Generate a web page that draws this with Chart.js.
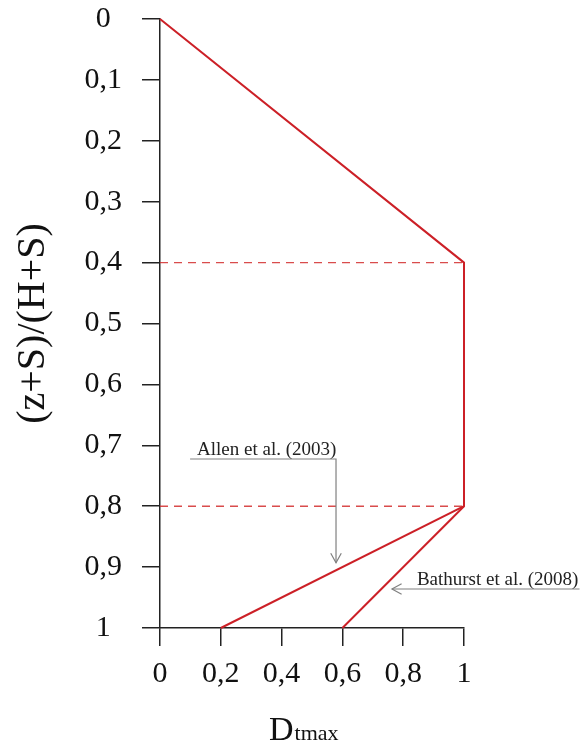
<!DOCTYPE html>
<html>
<head>
<meta charset="utf-8">
<script src="https://cdn.jsdelivr.net/npm/chart.js@4/dist/chart.umd.min.js"></script>
<style>
  html, body { margin: 0; padding: 0; background: #fff; }
  #wrap { width: 582px; height: 747px; }
</style>
</head>
<body>
<div id="wrap"><canvas id="chart" width="582" height="747"></canvas></div>
<script>
// depth ratio (z+S)/(H+S) vs normalised tension Dtmax
const allenX = [0, 1, 1, 0.2];
const allenY = [0, 0.4, 0.8, 1];
const bathurstX = [1, 0.6];
const bathurstY = [0.8, 1];
const refLevels = [0.4, 0.8];
const refX = [0, 1];

const xTickLabels = ['0', '0,2', '0,4', '0,6', '0,8', '1'];
const yTickLabels = ['0', '0,1', '0,2', '0,3', '0,4', '0,5', '0,6', '0,7', '0,8', '0,9', '1'];

const SERIF = '"Liberation Serif", "Times New Roman", serif';
const RED = '#cc2027';

function pts(xs, ys) {
  return xs.map((x, i) => ({ x: x, y: ys[i] }));
}

const datasets = refLevels.map(lv => ({
  data: pts(refX, refX.map(() => lv)),
  borderColor: 'rgba(210, 45, 45, 0.85)',
  borderWidth: 1.4,
  borderDash: [8, 6],
  showLine: true,
  pointRadius: 0,
  clip: false
}));
datasets.push({
  data: pts(allenX, allenY),
  borderColor: RED,
  borderWidth: 2,
  showLine: true,
  pointRadius: 0,
  clip: false
});
datasets.push({
  data: pts(bathurstX, bathurstY),
  borderColor: RED,
  borderWidth: 2,
  showLine: true,
  pointRadius: 0,
  clip: false
});

// callouts: text + arrow path in data units, arrow tip is the last point
const callouts = [
  { text: 'Allen et al. (2003)', tx: 0.122, ty: 0.716, px: [0.099, 0.579, 0.579], py: [0.7225, 0.7225, 0.893] },
  { text: 'Bathurst et al. (2008)', tx: 0.845, ty: 0.929, px: [1.38, 0.763], py: [0.936, 0.936] }
];

const annotate = {
  id: 'annotate',
  afterDatasetsDraw(chart) {
    const ctx = chart.ctx;
    const xs = chart.scales.x, ys = chart.scales.y;
    ctx.save();
    callouts.forEach(c => {
      ctx.strokeStyle = '#808080';
      ctx.lineWidth = 1.2;
      ctx.beginPath();
      c.px.forEach((v, i) => {
        const X = xs.getPixelForValue(v), Y = ys.getPixelForValue(c.py[i]);
        if (i === 0) ctx.moveTo(X, Y); else ctx.lineTo(X, Y);
      });
      ctx.stroke();
      const n = c.px.length;
      const tx = xs.getPixelForValue(c.px[n - 1]), ty = ys.getPixelForValue(c.py[n - 1]);
      const fx = xs.getPixelForValue(c.px[n - 2]), fy = ys.getPixelForValue(c.py[n - 2]);
      const a = Math.atan2(ty - fy, tx - fx);
      ctx.beginPath();
      ctx.moveTo(tx - 11 * Math.cos(a - 0.5), ty - 11 * Math.sin(a - 0.5));
      ctx.lineTo(tx, ty);
      ctx.lineTo(tx - 11 * Math.cos(a + 0.5), ty - 11 * Math.sin(a + 0.5));
      ctx.stroke();
      ctx.fillStyle = '#222';
      ctx.font = '19px ' + SERIF;
      ctx.textAlign = 'left';
      ctx.textBaseline = 'alphabetic';
      ctx.fillText(c.text, xs.getPixelForValue(c.tx), ys.getPixelForValue(c.ty));
    });
    // x axis title with subscript
    const area = chart.chartArea;
    const cx = (area.left + area.right) / 2 - 43;
    const by = area.bottom + 112;
    ctx.fillStyle = '#111';
    ctx.font = '34px ' + SERIF;
    ctx.fillText('D', cx, by);
    const w = ctx.measureText('D').width;
    ctx.font = '22px ' + SERIF;
    ctx.fillText('tmax', cx + w + 1, by);
    ctx.restore();
  }
};

const axisGrid = {
  display: true,
  drawOnChartArea: false,
  drawTicks: true,
  tickLength: 18,
  color: '#222',
  lineWidth: 1.5
};

new Chart(document.getElementById('chart'), {
  type: 'scatter',
  data: { datasets: datasets },
  options: {
    responsive: false,
    animation: false,
    layout: { padding: { left: 0, top: 19, right: 118, bottom: 0 } },
    plugins: { legend: { display: false }, tooltip: { enabled: false } },
    scales: {
      x: {
        type: 'linear',
        min: 0,
        max: 1,
        grid: axisGrid,
        border: { display: true, color: '#222', width: 1.5 },
        ticks: {
          stepSize: 0.2,
          padding: 10,
          color: '#111',
          font: { family: SERIF, size: 30 },
          callback: v => xTickLabels[Math.round(v / 0.2)]
        },
        afterFit: s => { s.height = 119; }
      },
      y: {
        type: 'linear',
        reverse: true,
        min: 0,
        max: 1,
        grid: axisGrid,
        border: { display: true, color: '#222', width: 1.5 },
        title: {
          display: true,
          text: '(z+S)/(H+S)',
          color: '#111',
          font: { family: SERIF, size: 40 },
          padding: { top: 9, bottom: 0 }
        },
        ticks: {
          stepSize: 0.1,
          padding: 20,
          crossAlign: 'center',
          color: '#111',
          font: { family: SERIF, size: 30 },
          callback: v => yTickLabels[Math.round(v / 0.1)]
        },
        afterFit: s => {
          s.width = 160;
          s.paddingTop = 0;
          s.paddingBottom = 0;
        }
      }
    }
  },
  plugins: [annotate]
});
</script>
</body>
</html>
